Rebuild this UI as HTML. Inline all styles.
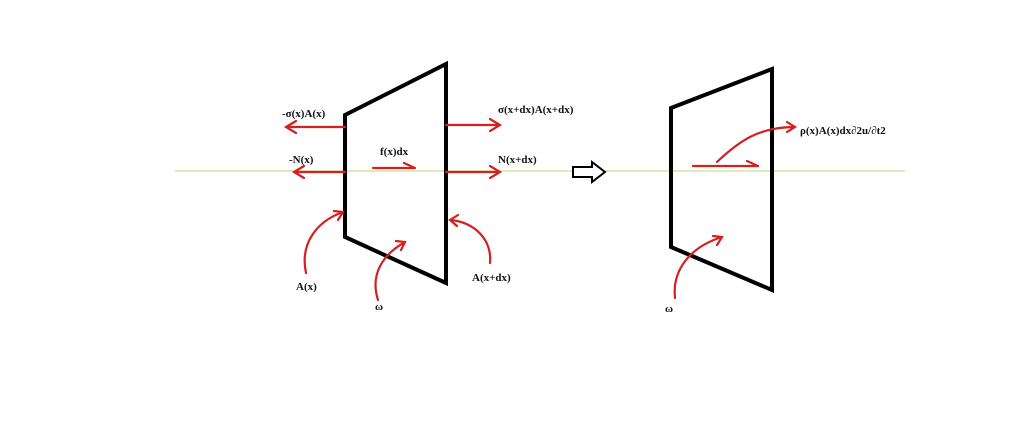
<!DOCTYPE html>
<html><head><meta charset="utf-8"><style>
html,body{margin:0;padding:0;background:#fff;width:1024px;height:422px;overflow:hidden}
svg{display:block}
text{font-family:"Liberation Serif",serif;font-weight:bold;font-size:11px;fill:#111}
</style></head><body>
<svg width="1024" height="422" viewBox="0 0 1024 422">
<line x1="175" y1="171" x2="905" y2="171" stroke="#d6e4a0" stroke-width="1.5"/>
<g fill="none" stroke="#000" stroke-width="4" stroke-linejoin="miter">
<polygon points="345,115 446,64 446,283 345,237"/>
<polygon points="671,108 772,69 772,290 671,247"/>
</g>
<g fill="none" stroke="#d42020" stroke-width="2.2" stroke-linecap="round">
<path d="M345,127 H286 M296,121 L286,127 L296,133"/>
<path d="M345,172 H294 M304,166 L294,172 L304,178"/>
<path d="M373,168 H415 M404,163 L415,168"/>
<path d="M446,125 H500 M490,119 L500,125 L490,131"/>
<path d="M446,172 H500 M490,166 L500,172 L490,178"/>
<path d="M306,273 C300,245 315,222 343,212 M334,211 L343,212 L338,220"/>
<path d="M378,300 C370,275 382,255 405,242 M396,241 L405,242 L401,250"/>
<path d="M490,263 C492,240 475,222 450,220 M458,215 L450,220 L457,226"/>
<path d="M693,166 H758 M747,161 L758,166"/>
<path d="M717,162 C740,140 760,127 795,127 M787,122 L795,127 L787,132"/>
<path d="M675,298 C672,270 690,247 722,237 M713,236 L722,237 L717,245"/>
</g>
<path d="M573,167 H592 V162 L605,172 L592,182 V177 H573 Z" fill="#fff" stroke="#000" stroke-width="2"/>
<text x="282" y="117">-σ(x)A(x)</text>
<text x="289" y="163">-N(x)</text>
<text x="380" y="155">f(x)dx</text>
<text x="498" y="113">σ(x+dx)A(x+dx)</text>
<text x="498" y="163">N(x+dx)</text>
<text x="296" y="290">A(x)</text>
<text x="375" y="310">ω</text>
<text x="472" y="281">A(x+dx)</text>
<text x="800" y="134">ρ(x)A(x)dx∂2u/∂t2</text>
<text x="665" y="312">ω</text>
</svg>
</body></html>
